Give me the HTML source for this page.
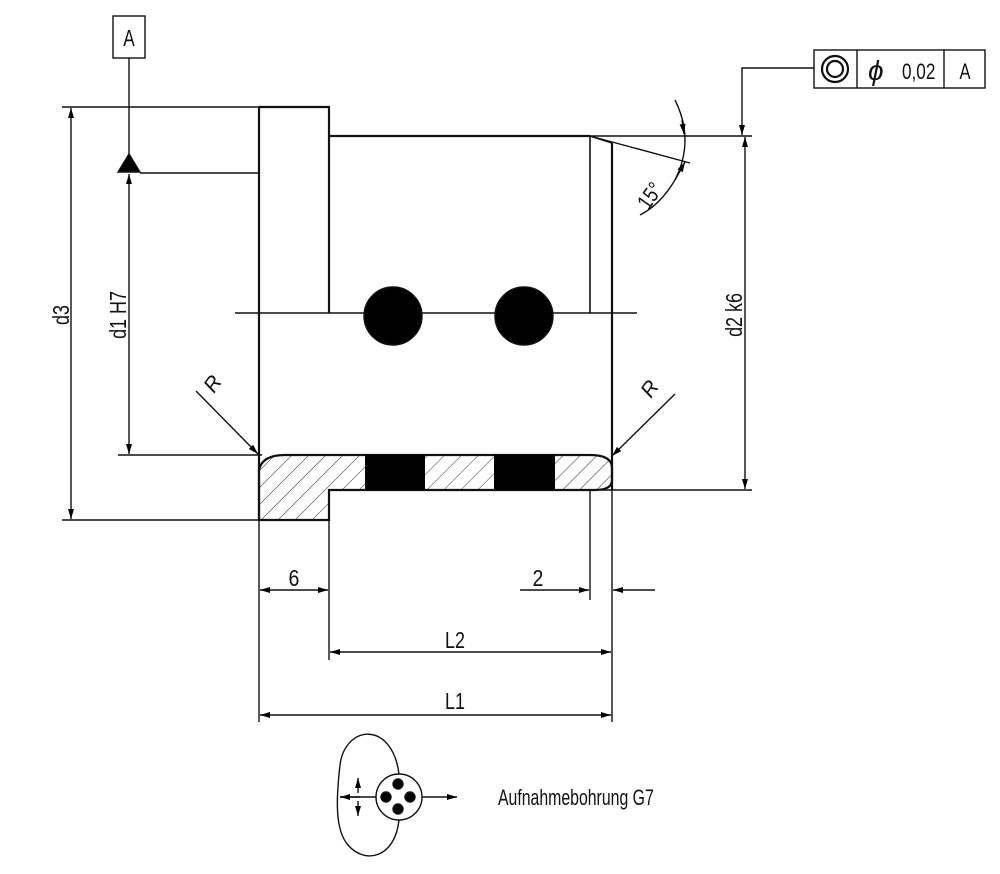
<!DOCTYPE html>
<html><head><meta charset="utf-8"><style>
html,body{margin:0;padding:0;background:#fff;width:1000px;height:874px;overflow:hidden}
svg text{font-family:"Liberation Sans",sans-serif;fill:#111}
</style></head><body>
<svg width="1000" height="874" viewBox="0 0 1000 874" xmlns="http://www.w3.org/2000/svg">
<defs>
<pattern id="h" patternUnits="userSpaceOnUse" width="12" height="12" patternTransform="rotate(45)">
<line x1="0" y1="0" x2="0" y2="12" stroke="#333" stroke-width="1"/>
</pattern>
<marker id="a" viewBox="0 0 10 6" refX="10" refY="3" markerWidth="16" markerHeight="6" markerUnits="userSpaceOnUse" orient="auto-start-reverse">
<path d="M0,0 L10,3 L0,6z" fill="#000"/>
</marker>
</defs>
<g stroke="#111" fill="none" stroke-width="1.4">
<rect x="113" y="16" width="32" height="42"/>
<line x1="129" y1="58" x2="129" y2="160"/>
<polygon points="129,154 118,172 140,172" fill="#000"/>
<line x1="140" y1="173" x2="259" y2="173"/>
<line x1="62" y1="107" x2="259" y2="107"/>
<line x1="118" y1="455" x2="262" y2="455"/>
<line x1="62" y1="520" x2="259" y2="520"/>
<line x1="329" y1="136" x2="752" y2="136"/>
<line x1="600" y1="490" x2="752" y2="490"/>
<path d="M259,107 H329 V313" stroke-width="2.2"/>
<line x1="259" y1="107" x2="259" y2="520" stroke-width="2.2"/>
<line x1="329" y1="136" x2="590" y2="136" stroke-width="2.2"/>
<line x1="612" y1="143" x2="612" y2="490" stroke-width="2.2"/>
<line x1="590" y1="136" x2="590" y2="313" stroke-width="1.6"/>
<line x1="590" y1="136" x2="612" y2="143" stroke-width="1.6"/>
<line x1="235" y1="313" x2="637" y2="313"/>
<path d="M259,470 Q262,455 285,455 H590 Q612,455 612,468 V480 Q612,490 595,490 H329 V520 H259 Z" fill="url(#h)" stroke-width="2.2"/>
<rect x="365" y="455" width="60" height="35" fill="#000" stroke="none"/>
<rect x="494" y="455" width="61" height="35" fill="#000" stroke="none"/>
<line x1="590" y1="490" x2="590" y2="600"/>
<circle cx="393" cy="316" r="29" fill="#000"/>
<circle cx="524" cy="316" r="29" fill="#000"/>
<line x1="71" y1="108" x2="71" y2="519" marker-start="url(#a)" marker-end="url(#a)"/>
<line x1="129" y1="174" x2="129" y2="454" marker-start="url(#a)" marker-end="url(#a)"/>
<line x1="745" y1="137" x2="745" y2="489" marker-start="url(#a)" marker-end="url(#a)"/>
<path d="M814,68 H742 V135" marker-end="url(#a)"/>
<rect x="814" y="50" width="171" height="38"/>
<line x1="857" y1="50" x2="857" y2="88"/>
<line x1="944" y1="50" x2="944" y2="88"/>
<circle cx="835" cy="69" r="13" stroke-width="2.2"/>
<circle cx="835" cy="69" r="8" stroke-width="2.2"/>
<line x1="590" y1="136" x2="690" y2="163"/>
<path d="M675,100 Q695,140 675,180 Q660,205 640,215" />
<path d="M682,120 L684,134" marker-end="url(#a)"/>
<path d="M675,180 L685,162" marker-end="url(#a)"/>
<line x1="196" y1="391" x2="258" y2="454" marker-end="url(#a)"/>
<line x1="675" y1="394" x2="612" y2="456" marker-end="url(#a)"/>
<line x1="259" y1="520" x2="259" y2="722"/>
<line x1="329" y1="520" x2="329" y2="660"/>
<line x1="612" y1="490" x2="612" y2="722"/>
<line x1="260" y1="590" x2="328" y2="590" marker-start="url(#a)" marker-end="url(#a)"/>
<line x1="520" y1="590" x2="589" y2="590" marker-end="url(#a)"/>
<line x1="655" y1="590" x2="613" y2="590" marker-end="url(#a)"/>
<line x1="330" y1="652" x2="611" y2="652" marker-start="url(#a)" marker-end="url(#a)"/>
<line x1="260" y1="715" x2="611" y2="715" marker-start="url(#a)" marker-end="url(#a)"/>
<path d="M399,774 C392,720 345,725 340,765 C336,800 335,830 348,845 C365,865 395,858 399,820"/>
<circle cx="399" cy="797" r="23"/>
<circle cx="398" cy="784" r="5" fill="#000"/>
<circle cx="386" cy="797" r="5" fill="#000"/>
<circle cx="410" cy="797" r="5" fill="#000"/>
<circle cx="398" cy="809" r="5" fill="#000"/>
<line x1="340" y1="797" x2="376" y2="797"/>
<line x1="340" y1="797" x2="360" y2="797" marker-start="url(#a)"/>
<line x1="422" y1="797" x2="457" y2="797" marker-end="url(#a)"/>
<line x1="358" y1="778" x2="358" y2="793" marker-start="url(#a)"/>
<line x1="358" y1="801" x2="358" y2="816" marker-end="url(#a)"/>
</g>
<g font-size="23">
<text x="129" y="46" text-anchor="middle" transform="translate(129 0) scale(0.75 1) translate(-129 0)">A</text>
<text x="965" y="79" text-anchor="middle" font-size="22" transform="translate(965 0) scale(0.75 1) translate(-965 0)">A</text>
<text x="868" y="80" font-size="28" font-style="italic">ϕ</text>
<text x="902" y="79" font-size="22" transform="translate(902 0) scale(0.78 1) translate(-902 0)">0,02</text>
<text x="294" y="586" text-anchor="middle" transform="translate(294 0) scale(0.85 1) translate(-294 0)">6</text>
<text x="538" y="586" text-anchor="middle" transform="translate(538 0) scale(0.85 1) translate(-538 0)">2</text>
<text x="455" y="648" text-anchor="middle" transform="translate(455 0) scale(0.78 1) translate(-455 0)">L2</text>
<text x="455" y="709" text-anchor="middle" transform="translate(455 0) scale(0.78 1) translate(-455 0)">L1</text>
<text transform="translate(69 315) rotate(-90) scale(0.78 1)" text-anchor="middle">d3</text>
<text transform="translate(126 315) rotate(-90) scale(0.78 1)" text-anchor="middle">d1 H7</text>
<text transform="translate(742 315) rotate(-90) scale(0.78 1)" text-anchor="middle">d2 k6</text>
<text transform="translate(656 200) rotate(-55) scale(0.8 1)" text-anchor="middle" font-size="22">15°</text>
<text transform="translate(214 394) rotate(-55)" font-style="italic" font-size="21">R</text>
<text transform="translate(651 399) rotate(-55)" font-style="italic" font-size="21">R</text>
<text x="498" y="805" font-size="22" transform="translate(498 0) scale(0.72 1) translate(-498 0)">Aufnahmebohrung G7</text>
</g>
</svg>
</body></html>
